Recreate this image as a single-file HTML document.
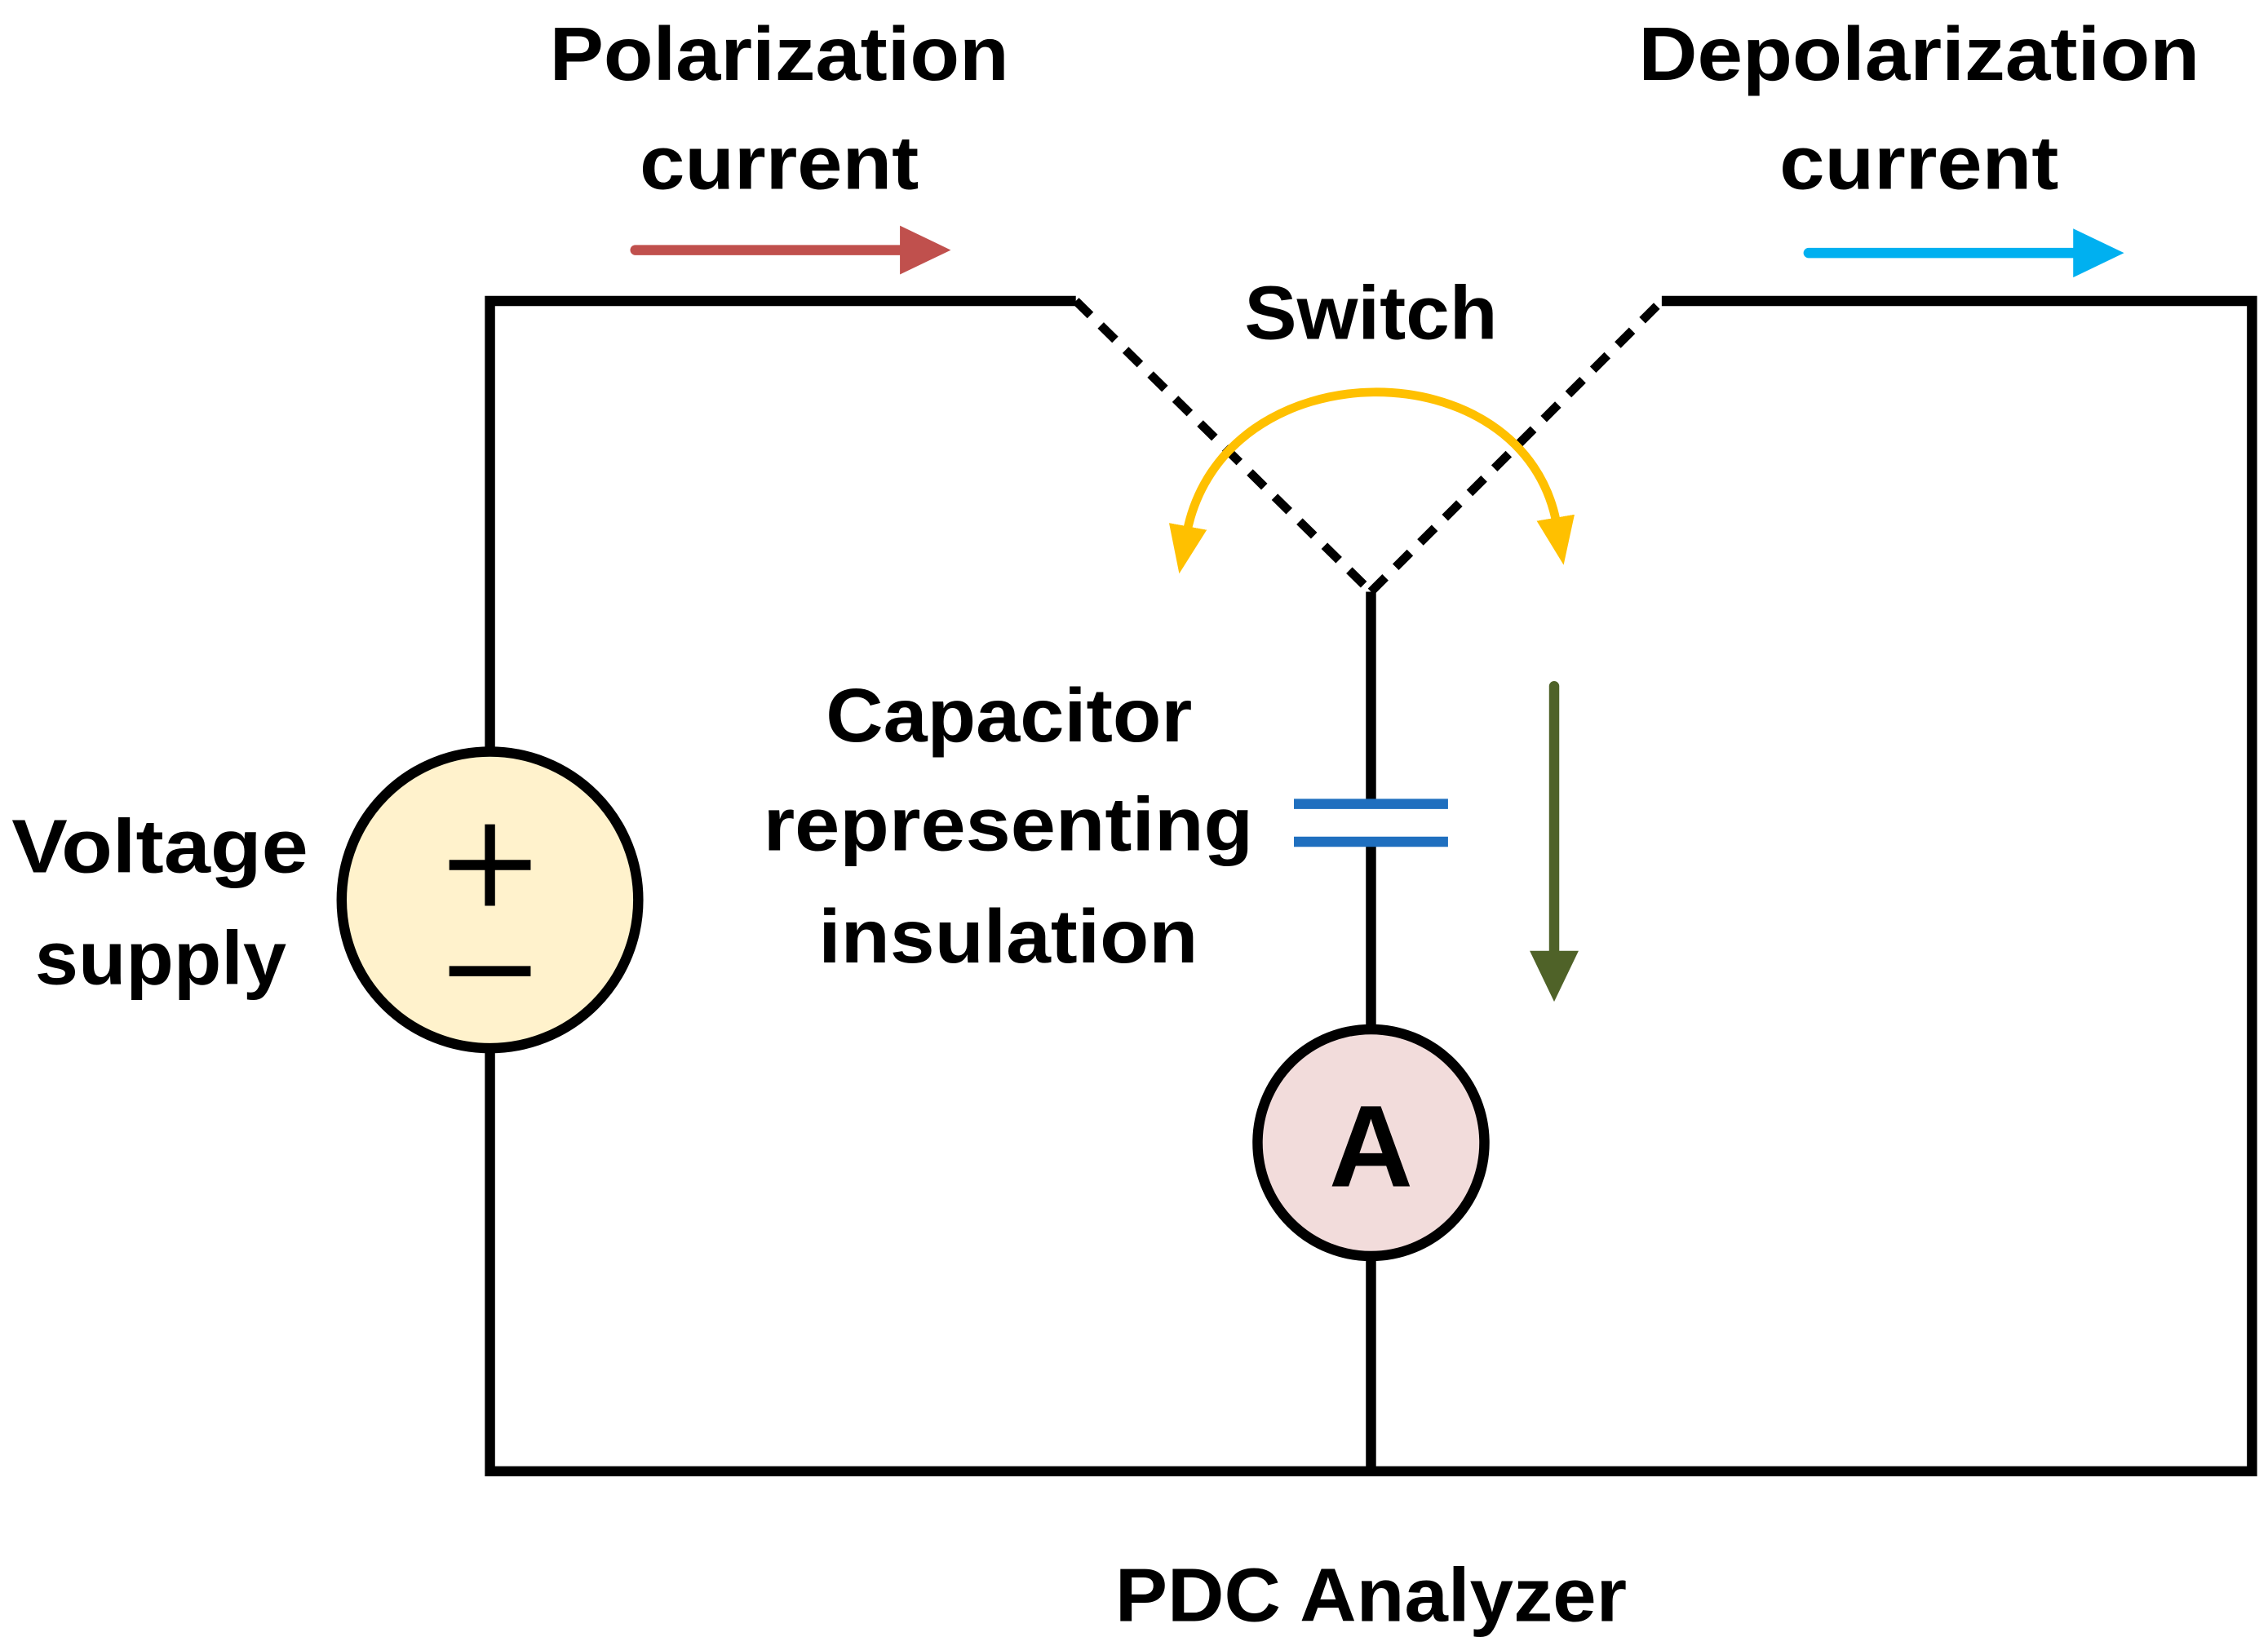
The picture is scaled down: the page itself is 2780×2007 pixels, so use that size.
<!DOCTYPE html>
<html><head><meta charset="utf-8"><style>
html,body{margin:0;padding:0;background:#fff;}
svg{display:block;}
text{font-family:"Liberation Sans",sans-serif;font-weight:bold;fill:#000;}
</style></head><body>
<svg width="2780" height="2007" viewBox="0 0 1560 1126" preserveAspectRatio="none" xmlns="http://www.w3.org/2000/svg">
<defs>
<marker id="ar" markerWidth="6" markerHeight="6" refX="3" refY="3" orient="auto" markerUnits="strokeWidth"><path d="M0,0.6 L5,3 L0,5.4 Z" fill="#C0504D"/></marker>
<marker id="ab" markerWidth="6" markerHeight="6" refX="3" refY="3" orient="auto" markerUnits="strokeWidth"><path d="M0,0.6 L5,3 L0,5.4 Z" fill="#00B0F0"/></marker>
<marker id="ag" markerWidth="6" markerHeight="6" refX="3" refY="3" orient="auto" markerUnits="strokeWidth"><path d="M0,0.6 L5,3 L0,5.4 Z" fill="#4F6228"/></marker>
<marker id="ay" markerWidth="7" markerHeight="7" refX="1" refY="3.5" orient="auto" markerUnits="strokeWidth"><path d="M0,1.3 L5.5,3.5 L0,5.7 Z" fill="#FFC000"/></marker>
<marker id="ays" markerWidth="7" markerHeight="7" refX="1" refY="3.5" orient="auto-start-reverse" markerUnits="strokeWidth"><path d="M0,1.3 L5.5,3.5 L0,5.7 Z" fill="#FFC000"/></marker>
</defs>
<g stroke="#000" stroke-width="7" fill="none">
<polyline points="740,207 337,207 337,1012 1549,1012 1549,207 1143,207"/>
<line x1="943" y1="407" x2="943" y2="553"/>
<line x1="943" y1="579" x2="943" y2="1012"/>
<g stroke-dasharray="14,10" stroke-width="6">
<line x1="740" y1="207" x2="943" y2="407"/>
<line x1="943" y1="407" x2="1143" y2="207"/>
</g>
</g>
<line x1="890" y1="553" x2="996" y2="553" stroke="#1F6FBF" stroke-width="7"/>
<line x1="890" y1="579" x2="996" y2="579" stroke="#1F6FBF" stroke-width="7"/>
<circle cx="337" cy="619" r="102" fill="#FFF2CC" stroke="#000" stroke-width="7"/>
<line x1="309" y1="595" x2="365" y2="595" stroke="#000" stroke-width="7"/>
<line x1="337" y1="567" x2="337" y2="623" stroke="#000" stroke-width="7"/>
<line x1="309" y1="668" x2="365" y2="668" stroke="#000" stroke-width="7"/>
<circle cx="943" cy="786" r="78" fill="#F2DCDB" stroke="#000" stroke-width="7"/>
<text x="943" y="816" text-anchor="middle" font-size="80">A</text>
<line x1="437" y1="172" x2="640" y2="172" stroke="#C0504D" stroke-width="7" stroke-linecap="round" marker-end="url(#ar)"/>
<line x1="1244" y1="174" x2="1447" y2="174" stroke="#00B0F0" stroke-width="7" stroke-linecap="round" marker-end="url(#ab)"/>
<line x1="1069" y1="472" x2="1069" y2="675" stroke="#4F6228" stroke-width="7" stroke-linecap="round" marker-end="url(#ag)"/>
<path d="M816,368 C840,238 1050,238 1071,362" fill="none" stroke="#FFC000" stroke-width="6" marker-start="url(#ays)" marker-end="url(#ay)"/>
<g font-size="52">
<text x="378" y="55" textLength="316" lengthAdjust="spacingAndGlyphs">Polarization</text>
<text x="440" y="130" textLength="192" lengthAdjust="spacingAndGlyphs">current</text>
<text x="1127" y="55" textLength="386" lengthAdjust="spacingAndGlyphs">Depolarization</text>
<text x="1224" y="130" textLength="192" lengthAdjust="spacingAndGlyphs">current</text>
<text x="856" y="233" textLength="174" lengthAdjust="spacingAndGlyphs">Switch</text>
<text x="568" y="510" textLength="252" lengthAdjust="spacingAndGlyphs">Capacitor</text>
<text x="525" y="585" textLength="337" lengthAdjust="spacingAndGlyphs">representing</text>
<text x="563" y="662" textLength="261" lengthAdjust="spacingAndGlyphs">insulation</text>
<text x="8" y="600" textLength="204" lengthAdjust="spacingAndGlyphs">Voltage</text>
<text x="24" y="677" textLength="173" lengthAdjust="spacingAndGlyphs">supply</text>
<text x="767" y="1115" textLength="352" lengthAdjust="spacingAndGlyphs">PDC Analyzer</text>
</g>
</svg>
</body></html>
